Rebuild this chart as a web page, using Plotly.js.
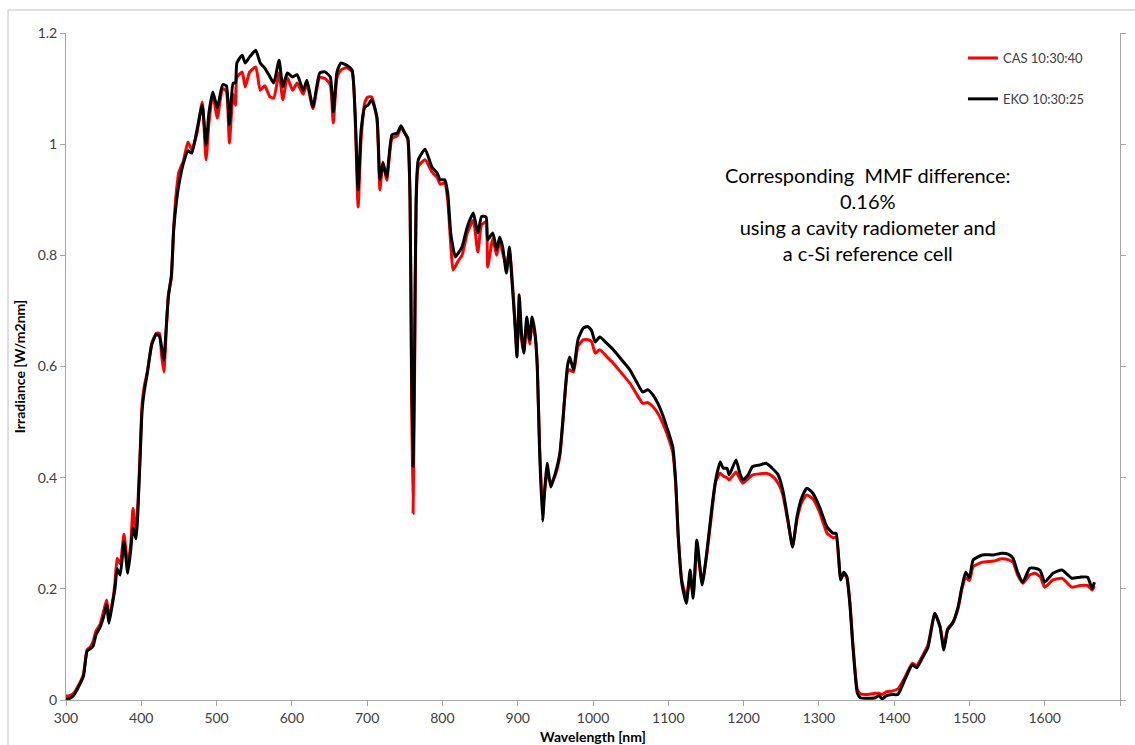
<!DOCTYPE html>
<html>
<head>
<meta charset="utf-8">
<script src="https://cdn.plot.ly/plotly-3.0.1.min.js"></script>
<style>
html,body{margin:0;padding:0;background:#fff;}
#chart{width:1135px;height:745px;}
</style>
</head>
<body>
<div id="chart"></div>
<script>
// Wavelength grid (nm)
const wavelength = [300,305,310,316,323,328,332,336,340,345,350,354,357,361,365,368,372,377,382,386,389,393,398,401,404,408,414,420,424,427,430,433,436,440,443,447,450,456,462,467,474,481,486,490,495,501,508,513,517,522,525,527,534,538,544,552,558,564,571,576,583,588,594,601,607,615,620,628,637,644,651,655,660,665,673,680,684,688,692,697,701,706,713,717,721,726,733,740,745,750,754,757,759,761,763,765,768,777,786,793,797,803,807,811,814,817,821,826,833,841,847,852,858,860,867,872,876,880,885,889,892,896,899,902,905,908,912,916,919,923,926,929,933,936,939,944,950,956,960,966,969,974,980,987,993,998,1003,1009,1018,1027,1038,1049,1058,1066,1073,1080,1086,1092,1098,1106,1110,1113,1118,1124,1129,1133,1138,1145,1151,1158,1163,1169,1173,1178,1181,1190,1195,1199,1206,1212,1222,1230,1238,1246,1252,1259,1265,1271,1277,1284,1292,1301,1311,1319,1323,1329,1333,1337,1341,1345,1348,1351,1355,1365,1375,1380,1384,1390,1397,1405,1414,1424,1430,1438,1445,1454,1461,1466,1471,1478,1485,1490,1495,1500,1505,1517,1532,1543,1552,1558,1564,1571,1580,1587,1594,1600,1611,1623,1636,1647,1657,1663,1666];

// EKO 10:30:25 irradiance (W/m2nm)
const eko = [0.002,0.003,0.008,0.022,0.042,0.088,0.092,0.097,0.118,0.13,0.15,0.172,0.138,0.168,0.2,0.236,0.225,0.285,0.228,0.27,0.31,0.29,0.42,0.52,0.556,0.588,0.64,0.658,0.655,0.635,0.611,0.668,0.725,0.765,0.845,0.9,0.928,0.966,0.988,0.984,1.026,1.07,0.999,1.058,1.094,1.065,1.107,1.105,1.035,1.11,1.11,1.146,1.16,1.146,1.157,1.169,1.146,1.137,1.121,1.11,1.151,1.103,1.128,1.121,1.125,1.097,1.115,1.067,1.128,1.13,1.121,1.058,1.13,1.146,1.142,1.133,1.056,0.918,1.025,1.067,1.07,1.08,1.049,0.936,0.966,0.941,1.017,1.02,1.033,1.02,1.011,0.9,0.6,0.42,0.62,0.9,0.972,0.991,0.959,0.948,0.936,0.936,0.912,0.84,0.815,0.797,0.804,0.815,0.851,0.876,0.84,0.87,0.869,0.828,0.84,0.81,0.833,0.815,0.768,0.815,0.761,0.684,0.617,0.729,0.66,0.624,0.689,0.648,0.689,0.66,0.6,0.45,0.322,0.38,0.426,0.383,0.408,0.444,0.504,0.6,0.617,0.594,0.648,0.669,0.672,0.665,0.644,0.653,0.642,0.63,0.612,0.594,0.572,0.554,0.558,0.548,0.534,0.515,0.491,0.455,0.39,0.3,0.21,0.174,0.234,0.183,0.288,0.207,0.264,0.347,0.396,0.428,0.417,0.417,0.405,0.432,0.408,0.396,0.405,0.42,0.423,0.426,0.417,0.405,0.378,0.324,0.275,0.33,0.363,0.381,0.372,0.347,0.311,0.3,0.3,0.216,0.23,0.222,0.175,0.1,0.05,0.013,0.004,0.003,0.004,0.008,0.002,0.008,0.01,0.01,0.036,0.063,0.058,0.077,0.095,0.156,0.131,0.09,0.126,0.139,0.168,0.203,0.23,0.22,0.252,0.261,0.261,0.264,0.262,0.255,0.23,0.212,0.237,0.237,0.233,0.212,0.228,0.234,0.219,0.221,0.221,0.2,0.212];

// CAS 10:30:40 irradiance (W/m2nm)
const cas = [0.007,0.008,0.012,0.025,0.045,0.09,0.095,0.105,0.125,0.135,0.16,0.18,0.15,0.17,0.21,0.255,0.245,0.298,0.245,0.28,0.345,0.3,0.43,0.53,0.565,0.59,0.642,0.66,0.66,0.62,0.59,0.66,0.73,0.76,0.85,0.92,0.95,0.97,1.004,0.99,1.02,1.076,0.972,1.04,1.09,1.047,1.1,1.095,1.002,1.09,1.07,1.12,1.13,1.103,1.13,1.139,1.097,1.105,1.085,1.083,1.128,1.08,1.12,1.097,1.11,1.09,1.108,1.064,1.12,1.118,1.107,1.038,1.12,1.133,1.138,1.13,1.05,0.887,1.01,1.075,1.085,1.085,1.045,0.918,0.968,0.935,1.01,1.015,1.03,1.02,1.008,0.9,0.55,0.336,0.58,0.88,0.96,0.972,0.95,0.94,0.928,0.93,0.9,0.82,0.774,0.78,0.79,0.8,0.84,0.863,0.806,0.855,0.86,0.779,0.83,0.8,0.825,0.805,0.78,0.81,0.77,0.69,0.63,0.7,0.65,0.625,0.67,0.64,0.675,0.655,0.6,0.46,0.347,0.38,0.408,0.39,0.405,0.44,0.5,0.59,0.594,0.59,0.636,0.648,0.648,0.645,0.624,0.63,0.618,0.606,0.588,0.57,0.55,0.534,0.535,0.527,0.516,0.5,0.48,0.445,0.385,0.3,0.215,0.185,0.22,0.19,0.272,0.212,0.26,0.34,0.393,0.408,0.403,0.4,0.396,0.41,0.398,0.39,0.398,0.405,0.407,0.408,0.403,0.39,0.37,0.32,0.277,0.325,0.355,0.369,0.362,0.338,0.3,0.292,0.293,0.22,0.225,0.222,0.18,0.105,0.055,0.02,0.011,0.01,0.012,0.012,0.01,0.015,0.016,0.02,0.04,0.066,0.062,0.08,0.1,0.155,0.133,0.095,0.128,0.14,0.165,0.2,0.22,0.215,0.24,0.248,0.25,0.254,0.252,0.248,0.225,0.21,0.225,0.228,0.222,0.203,0.216,0.219,0.203,0.206,0.206,0.198,0.205];

const xTicks = [300,400,500,600,700,800,900,1000,1100,1200,1300,1400,1500,1600,1700];
const yTicks = [0,0.2,0.4,0.6,0.8,1,1.2];
const annotationLines = ["Corresponding  MMF difference:", "0.16%", "using a cavity radiometer and", "a c-Si reference cell"];

const FONT = "Lato, 'Open Sans', sans-serif";
const AXIS_COLOR = "#a6a6a6";
const TEXT_COLOR = "#404040";

const traces = [
  {x: wavelength, y: cas, type: 'scatter', mode: 'lines', name: 'CAS 10:30:40',
   line: {color: '#ff0000', width: 3, shape: 'spline', smoothing: 0.5}, legendgroup: 'a'},
  {x: wavelength, y: eko, type: 'scatter', mode: 'lines', name: 'EKO 10:30:25',
   line: {color: '#000000', width: 3, shape: 'spline', smoothing: 0.5}, legendgroup: 'b'}
];

const layout = {
  width: 1135, height: 745,
  margin: {l: 66, r: 15, t: 33, b: 45, pad: 0},
  paper_bgcolor: '#ffffff', plot_bgcolor: '#ffffff',
  font: {family: FONT, size: 13, color: TEXT_COLOR},
  showlegend: true,
  legend: {x: 0.851, y: 0.985, xanchor: 'left', yanchor: 'top',
           traceorder: 'grouped', tracegroupgap: 21,
           font: {family: FONT, size: 13, color: TEXT_COLOR},
           bgcolor: 'rgba(0,0,0,0)'},
  xaxis: {
    range: [300, 1700], tickvals: xTicks, ticktext: xTicks.map(String),
    showgrid: false, zeroline: false, showline: true, linecolor: AXIS_COLOR, linewidth: 1,
    ticks: 'outside', ticklen: 5, tickcolor: AXIS_COLOR,
    tickfont: {family: FONT, size: 14, color: TEXT_COLOR},
    title: {text: '<b>Wavelength [nm]</b>', standoff: 12, font: {family: FONT, size: 14, color: '#000'}},
    automargin: false
  },
  yaxis: {
    range: [0, 1.2], tickvals: yTicks, ticktext: yTicks.map(String),
    showgrid: false, zeroline: false, showline: true, linecolor: AXIS_COLOR, linewidth: 1,
    mirror: 'ticks',
    ticks: 'outside', ticklen: 5, tickcolor: AXIS_COLOR,
    tickfont: {family: FONT, size: 14, color: TEXT_COLOR},
    title: {text: '<b>Irradiance [W/m2nm]</b>', standoff: 8, font: {family: FONT, size: 14, color: '#000'}},
    automargin: false
  },
  annotations: [{
    xref: 'paper', yref: 'paper', x: 0.761, y: 0.7286, xanchor: 'center', yanchor: 'middle',
    text: annotationLines.join('<br>'), showarrow: false, align: 'center',
    font: {family: FONT, size: 20, color: '#000'}
  }],
  shapes: [{
    type: 'rect', xref: 'paper', yref: 'paper',
    x0: -0.055, x1: 1.2, y0: -0.2, y1: 1.0345,
    line: {color: '#bfbfbf', width: 1}, fillcolor: 'rgba(0,0,0,0)', layer: 'below'
  }]
};

Plotly.newPlot('chart', traces, layout, {displayModeBar: false, staticPlot: true});
</script>
</body>
</html>
